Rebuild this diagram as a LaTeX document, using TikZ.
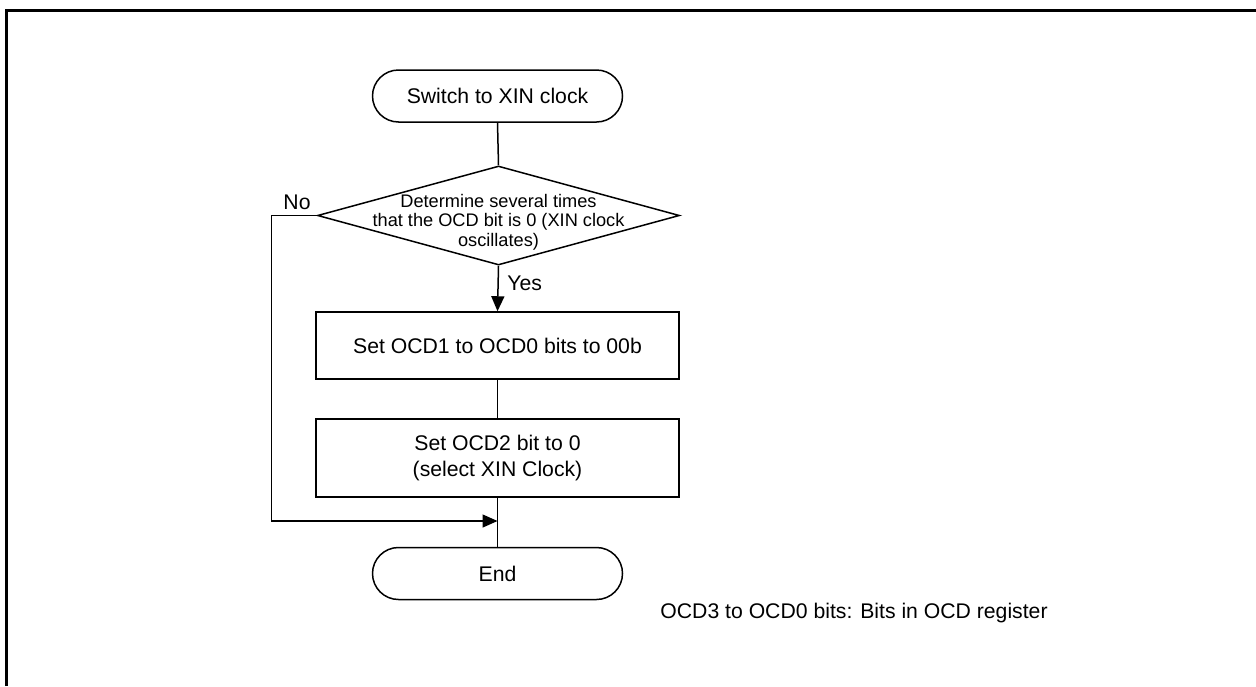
\documentclass[tikz,border=0pt]{standalone}
\usepackage{fontspec}
\setmainfont{Liberation Sans}
\usetikzlibrary{arrows.meta,shapes.geometric}
\begin{document}
\begin{tikzpicture}[x=0.5pt,y=-0.5pt,
  every node/.style={font=\fontsize{10.6}{13}\selectfont},
  term/.style={draw,line width=0.75pt,rounded corners=13pt,minimum width=125pt,minimum height=26pt,inner sep=0pt},
  proc/.style={draw,line width=0.75pt,minimum width=181.5pt,inner sep=0pt,align=center},
  dec/.style={draw,line width=0.75pt,diamond,minimum width=181pt,minimum height=49.5pt,inner sep=0pt},
  conn/.style={line width=0.75pt},
  arr/.style={line width=0.75pt,-{Triangle[length=7.5pt,width=6.5pt]}},
  lbl/.style={inner sep=0pt}
]
\useasboundingbox (0,0) rectangle (1256,686);
\draw[line width=1.5pt] (6,686) -- (6,10.5) -- (1256,10.5);

\node[term] (start) at (497.5,96) {Switch to XIN clock};
\node[dec] (check) at (498.5,215.5) {};
\node[lbl,align=center,font=\fontsize{9.1}{9.8}\selectfont] (checktext) at (498.5,222) {Determine several times\\that the OCD bit is 0 (XIN clock\\oscillates)};
\node[proc,minimum height=33.5pt] (b1) at (497.5,345.5) {Set OCD1 to OCD0 bits to 00b};
\node[proc,minimum height=39pt] (b2) at (497.5,458) {Set OCD2 bit to 0\\(select XIN Clock)};
\node[term] (end) at (497.5,573.5) {End};

\coordinate (nocorner) at (271.5,215.5);
\coordinate (join) at (497.5,521);

\draw[conn] (start.south) -- (check.north);
\draw[arr] (check.south) -- (b1.north);
\draw[conn] (b1.south) -- (b2.north);
\draw[conn] (b2.south) -- (end.north);
\draw[arr] (check.west) -- (nocorner) |- (join);

\node[lbl] (no) at (297,202) {No};
\node[lbl,anchor=west] (yes) at (507,283) {Yes};
\node[lbl,anchor=west] (note) at (660,613) {OCD3 to OCD0 bits: Bits in OCD register};
\end{tikzpicture}
\end{document}
